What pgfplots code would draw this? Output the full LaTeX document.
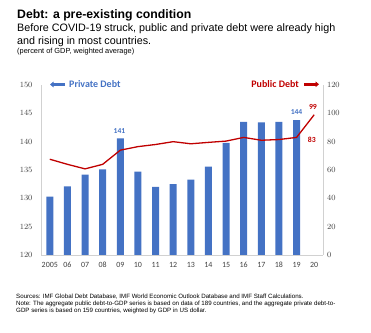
\documentclass[border=0pt]{standalone}
\usepackage{pgfplots}
\pgfplotsset{compat=1.18}
\usepackage{fontspec}
\setmainfont{Liberation Sans}
\newfontfamily\carlito{Carlito}
\usetikzlibrary{arrows.meta}
\definecolor{pblue}{HTML}{4472C4}
\definecolor{pred}{HTML}{C00000}
\begin{document}
\begin{tikzpicture}
\path[use as bounding box] (0bp,0bp) rectangle (371bp,333bp);
\node[anchor=base west, inner sep=0] at (17bp,314bp) {\fontsize{12.3}{14}\selectfont\bfseries Debt: a pre-existing condition};
\node[anchor=base west, inner sep=0] at (17bp,301.3bp) {\fontsize{10.8}{12}\selectfont Before COVID-19 struck, public and private debt were already high};
\node[anchor=base west, inner sep=0] at (17bp,288.7bp) {\fontsize{10.8}{12}\selectfont and rising in most countries.};
\node[anchor=base west, inner sep=0] at (17bp,279bp) {\fontsize{7.4}{8}\selectfont (percent of GDP, weighted average)};
\node[anchor=base west, inner sep=0] at (16bp,35bp) {\fontsize{6.2}{7}\selectfont Sources: IMF Global Debt Database, IMF World Economic Outlook Database and IMF Staff Calculations.};
\node[anchor=base west, inner sep=0] at (16bp,27.6bp) {\fontsize{6.2}{7}\selectfont Note: The aggregate public debt-to-GDP series is based on data of 189 countries, and the aggregate private debt-to-};
\node[anchor=base west, inner sep=0] at (16bp,20.2bp) {\fontsize{6.2}{7}\selectfont GDP series is based on 159 countries, weighted by GDP in US dollar.};
% legend annotations
\draw[pblue, line width=2.6bp, -{Triangle[width=5.5bp,length=3.5bp]}] (65bp,248.5bp) -- (50bp,248.5bp);
\node[anchor=west, inner sep=0, text=pblue] at (69bp,248.5bp) {\carlito\bfseries\fontsize{10}{11}\selectfont Private Debt};
\node[anchor=east, inner sep=0, text=pred] at (299bp,248.7bp) {\carlito\bfseries\fontsize{10}{11}\selectfont Public Debt};
\draw[pred, line width=2.6bp, -{Triangle[width=5.5bp,length=3.5bp]}] (304bp,248.7bp) -- (319bp,248.7bp);
\begin{axis}[
  at={(41bp,78bp)}, anchor=south west, scale only axis,
  width=282bp, height=170bp,
  xmin=-0.5, xmax=15.5, ymin=120, ymax=150,
  axis y line*=left, axis x line*=bottom,
  axis line style={draw=black!18, line width=0.6bp},
  xtick={0,...,15},
  xticklabels={2005,06,07,08,09,10,11,12,13,14,15,16,17,18,19,20},
  ytick={120,125,...,150},
  major tick length=0pt,
  tick label style={font=\carlito\fontsize{8}{9}\selectfont, text=black!75},
  yticklabel style={xshift=-5bp},
  xticklabel style={yshift=-3.5bp},
  ybar, bar width=7bp, bar shift=0pt,
  clip=false,
]
\addplot[fill=pblue, draw=none] coordinates {
 (0,130.3) (1,132.1) (2,134.2) (3,135.1) (4,140.6) (5,134.7) (6,132.0) (7,132.5)
 (8,133.3) (9,135.6) (10,139.8) (11,143.5) (12,143.4) (13,143.5) (14,143.8)};
\node[text=pblue, font=\carlito\bfseries\fontsize{7.6}{8}\selectfont] at (axis cs:3.95,141.9) {141};
\node[text=pblue, font=\carlito\bfseries\fontsize{7.6}{8}\selectfont] at (axis cs:14,145.3) {144};
\node[text=pred, font=\carlito\bfseries\fontsize{7.8}{8}\selectfont] at (axis cs:14.93,146.1) {99};
\node[text=pred, font=\carlito\bfseries\fontsize{7.8}{8}\selectfont] at (axis cs:14.87,140.3) {83};
\end{axis}
\begin{axis}[
  at={(41bp,78bp)}, anchor=south west, scale only axis,
  width=282bp, height=170bp,
  xmin=-0.5, xmax=15.5, ymin=0, ymax=120,
  axis y line*=right, axis x line=none,
  axis line style={draw=black!18, line width=0.6bp},
  ytick={0,20,...,120},
  major tick length=0pt,
  tick label style={font=\carlito\fontsize{8}{9}\selectfont, text=black!75},
  yticklabel style={xshift=0.5bp},
]
\addplot[pred, line width=1.3bp, mark=none] coordinates {
 (0,67.6) (1,64) (2,60.8) (3,64) (4,74) (5,76.5) (6,78) (7,80)
 (8,78.5) (9,79.5) (10,80.4) (11,83) (12,81) (13,81.5) (14,83) (15,99)};
\end{axis}
\end{tikzpicture}
\end{document}
